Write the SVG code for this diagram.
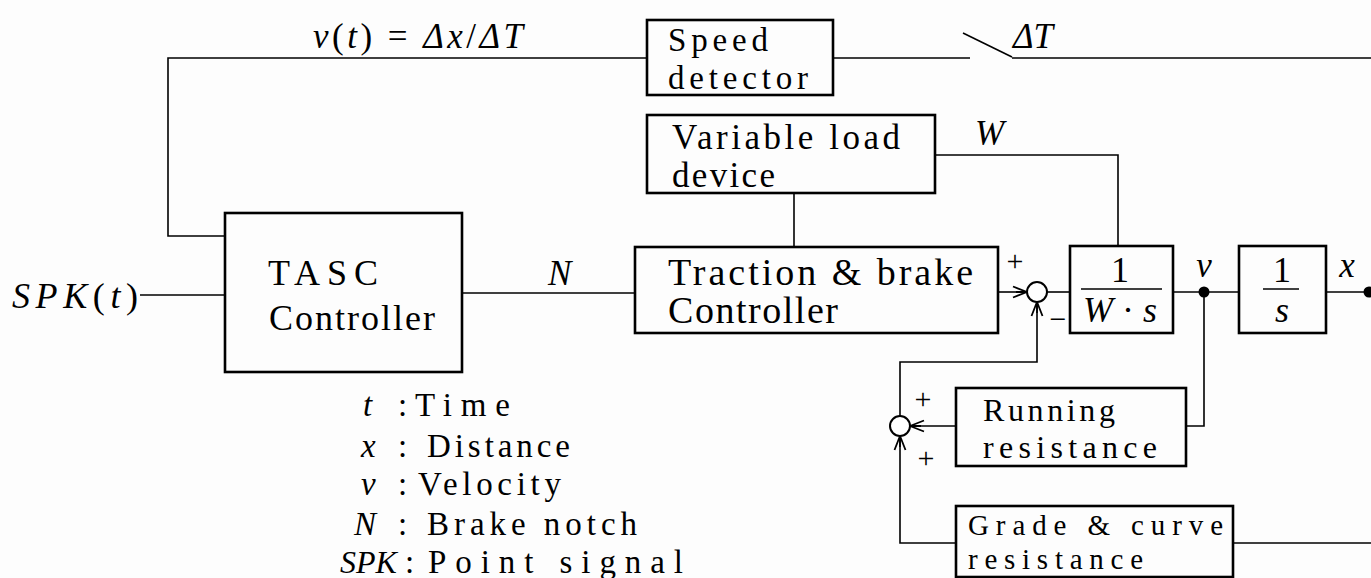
<svg xmlns="http://www.w3.org/2000/svg" width="1371" height="578" viewBox="0 0 1371 578">
<defs>
<marker id="arr" markerUnits="userSpaceOnUse" markerWidth="16" markerHeight="14" viewBox="0 0 16 14" refX="15" refY="7" orient="auto">
<path d="M1,1.5 L15,7 L1,12.5 M4,7 L15,7" fill="none" stroke="#000" stroke-width="1.8"/>
</marker>
<style>
.box{fill:none;stroke:#000;stroke-width:2.6}
.ln{fill:none;stroke:#000;stroke-width:1.6}
.t{font-family:"Liberation Serif","DejaVu Serif",serif;fill:#000}
.m{font-family:"Liberation Serif","DejaVu Serif",serif;font-style:italic;fill:#000}
.u{font-style:normal}
.sum{fill:#fff;stroke:#000;stroke-width:2}
</style>
</defs>
<rect width="1371" height="578" fill="#fdfdfd"/>

<g id="connectors">
<polyline class="ln" points="647,58 168,58 168,236 225,236"/>
<line class="ln" x1="833" y1="58" x2="970" y2="58"/>
<line class="ln" x1="963" y1="33" x2="1012" y2="57"/>
<line class="ln" x1="1012" y1="58" x2="1371" y2="58"/>
<line class="ln" x1="140" y1="295" x2="225" y2="295"/>
<line class="ln" x1="462" y1="293" x2="635" y2="293"/>
<line class="ln" x1="794" y1="193" x2="794" y2="247"/>
<polyline class="ln" points="935,155 1118,155 1118,246"/>
<line class="ln" x1="998" y1="292" x2="1027" y2="292" marker-end="url(#arr)"/>
<line class="ln" x1="1047" y1="292" x2="1070" y2="292"/>
<line class="ln" x1="1173" y1="292" x2="1239" y2="292"/>
<line class="ln" x1="1326" y1="292" x2="1371" y2="292"/>
<polyline class="ln" points="1204,292 1204,426 1186,426"/>
<line class="ln" x1="956" y1="426" x2="910" y2="426" marker-end="url(#arr)"/>
<polyline class="ln" points="900,416 900,362 1037,362 1037,302" marker-end="url(#arr)"/>
<polyline class="ln" points="956,543 900,543 900,436" marker-end="url(#arr)"/>
<line class="ln" x1="1233" y1="543" x2="1371" y2="543"/>
<circle cx="1204" cy="292" r="5.5" fill="#000"/>
<circle cx="1369" cy="292" r="5.5" fill="#000"/>
</g>

<g id="tasc">
<rect class="box" x="225" y="213" width="237" height="159"/>
<text class="t" x="268" y="285" font-size="36" textLength="110" lengthAdjust="spacing">TASC</text>
<text class="t" x="269" y="330" font-size="36" textLength="166" lengthAdjust="spacing">Controller</text>
</g>

<g id="speed-detector">
<rect class="box" x="647" y="20" width="186" height="75"/>
<text class="t" x="668" y="51" font-size="33" textLength="100" lengthAdjust="spacing">Speed</text>
<text class="t" x="668" y="89" font-size="33" textLength="140" lengthAdjust="spacing">detector</text>
</g>

<g id="variable-load">
<rect class="box" x="647" y="115" width="288" height="78"/>
<text class="t" x="672" y="149" font-size="35" textLength="228" lengthAdjust="spacing">Variable load</text>
<text class="t" x="672" y="187" font-size="35" textLength="103" lengthAdjust="spacing">device</text>
</g>

<g id="traction">
<rect class="box" x="635" y="247" width="363" height="86"/>
<text class="t" x="668" y="285" font-size="38" textLength="305" lengthAdjust="spacing">Traction &amp; brake</text>
<text class="t" x="668" y="323" font-size="38" textLength="170" lengthAdjust="spacing">Controller</text>
</g>

<g id="sum1">
<circle class="sum" cx="1037" cy="292" r="10"/>
<text class="t" x="1015" y="260" font-size="30" text-anchor="middle" dominant-baseline="central">+</text>
<text class="t" x="1058" y="318" font-size="30" text-anchor="middle" dominant-baseline="central">−</text>
</g>

<g id="plant">
<rect class="box" x="1070" y="246" width="103" height="87"/>
<text class="t" x="1120" y="282" font-size="36" text-anchor="middle">1</text>
<line x1="1081" y1="289" x2="1162" y2="289" stroke="#000" stroke-width="1.6"/>
<text class="m" x="1120" y="322" font-size="36" text-anchor="middle">W<tspan class="u"> · </tspan>s</text>
</g>

<g id="integrator">
<rect class="box" x="1239" y="246" width="87" height="87"/>
<text class="t" x="1282" y="282" font-size="36" text-anchor="middle">1</text>
<line x1="1263" y1="289" x2="1299" y2="289" stroke="#000" stroke-width="1.6"/>
<text class="m" x="1282" y="322" font-size="36" text-anchor="middle">s</text>
</g>

<g id="sum2">
<circle class="sum" cx="900" cy="426" r="10"/>
<text class="t" x="923" y="398" font-size="30" text-anchor="middle" dominant-baseline="central">+</text>
<text class="t" x="926" y="457" font-size="30" text-anchor="middle" dominant-baseline="central">+</text>
</g>

<g id="running">
<rect class="box" x="956" y="388" width="230" height="78"/>
<text class="t" x="983" y="421" font-size="32" textLength="132" lengthAdjust="spacing">Running</text>
<text class="t" x="983" y="458" font-size="32" textLength="174" lengthAdjust="spacing">resistance</text>
</g>

<g id="grade">
<rect class="box" x="956" y="506" width="277" height="71"/>
<text class="t" x="968" y="535" font-size="29" textLength="255" lengthAdjust="spacing">Grade &amp; curve</text>
<text class="t" x="968" y="569" font-size="29" textLength="175" lengthAdjust="spacing">resistance</text>
</g>

<g id="labels">
<text class="m" x="313" y="48" font-size="35" textLength="210" lengthAdjust="spacing">v<tspan class="u">(</tspan>t<tspan class="u">) = </tspan>Δx<tspan class="u">/</tspan>ΔT</text>
<text class="m" x="1013" y="48" font-size="35">ΔT</text>
<text class="m" x="975" y="145" font-size="35">W</text>
<text class="m" x="12" y="308" font-size="36" textLength="126" lengthAdjust="spacing">SPK<tspan class="u">(</tspan>t<tspan class="u">)</tspan></text>
<text class="m" x="548" y="285" font-size="35">N</text>
<text class="m" x="1204" y="277" font-size="35" text-anchor="middle">v</text>
<text class="m" x="1347" y="277" font-size="35" text-anchor="middle">x</text>
</g>

<g id="legend">
<text class="m" x="363" y="416" font-size="33">t</text>
<text class="t" x="398" y="416" font-size="33">:</text>
<text class="t" x="415" y="416" font-size="33" textLength="95" lengthAdjust="spacing">Time</text>
<text class="m" x="361" y="457" font-size="33">x</text>
<text class="t" x="398" y="457" font-size="33">:</text>
<text class="t" x="427" y="457" font-size="33" textLength="143" lengthAdjust="spacing">Distance</text>
<text class="m" x="361" y="495" font-size="33">v</text>
<text class="t" x="398" y="495" font-size="33">:</text>
<text class="t" x="418" y="495" font-size="33" textLength="143" lengthAdjust="spacing">Velocity</text>
<text class="m" x="354" y="535" font-size="33">N</text>
<text class="t" x="398" y="535" font-size="33">:</text>
<text class="t" x="427" y="535" font-size="33" textLength="210" lengthAdjust="spacing">Brake notch</text>
<text class="m" x="340" y="573" font-size="32">SPK</text>
<text class="t" x="405" y="573" font-size="33">:</text>
<text class="t" x="428" y="573" font-size="33" textLength="255" lengthAdjust="spacing">Point signal</text>
</g>
</svg>
